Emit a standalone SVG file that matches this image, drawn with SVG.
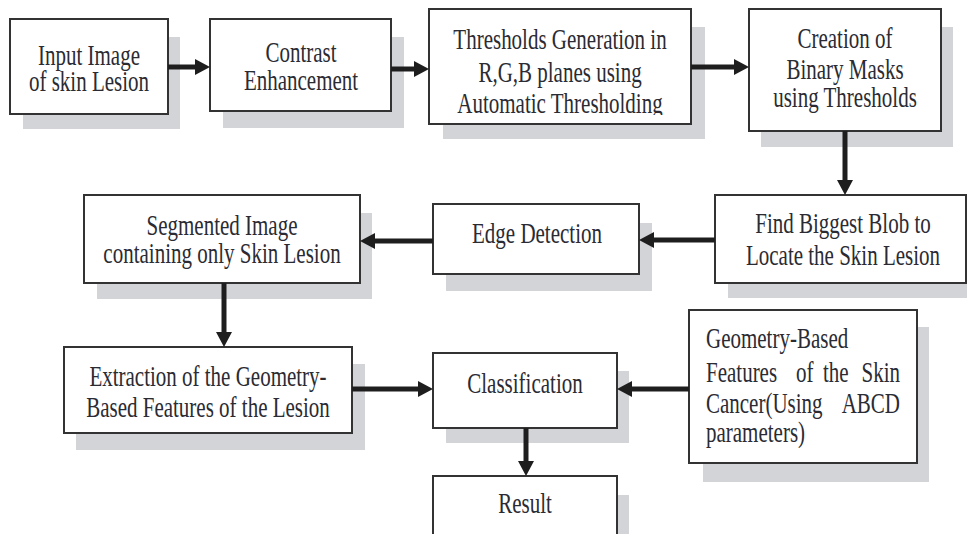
<svg xmlns="http://www.w3.org/2000/svg" width="967" height="534" viewBox="0 0 967 534">
<style>
.sh{fill:#d3d4d7}
.bx{fill:#fff;stroke:#333;stroke-width:2}
.t{font-family:"Liberation Serif","Times New Roman",serif;font-size:21px;fill:#2b2b33}
.m{text-anchor:middle}
.e{text-anchor:end}
.c{stroke:#1e1e1e;stroke-width:5;fill:none;marker-end:url(#ah)}
</style>
<defs>
<marker id="ah" markerUnits="userSpaceOnUse" viewBox="0 0 15 16" markerWidth="15" markerHeight="16" refX="1" refY="8" orient="auto">
<path d="M0,0 L15,8 L0,16 z" fill="#1e1e1e"/>
</marker>
<clipPath id="clipThr"><rect x="429" y="9" width="262" height="106"/></clipPath>
</defs>
<rect width="967" height="534" fill="#fff"/>

<g id="n1">
<rect class="sh" x="23" y="37" width="157" height="92"/>
<rect class="bx" x="10" y="19" width="158" height="95"/>
<text class="t m" transform="translate(89,65) scale(1,1.45)">Input Image</text>
<text class="t m" transform="translate(89,91) scale(1,1.45)">of skin Lesion</text>
</g>

<g id="n2">
<rect class="sh" x="223" y="37" width="181" height="91"/>
<rect class="bx" x="210" y="19" width="181" height="92"/>
<text class="t m" transform="translate(301,62) scale(1,1.45)">Contrast</text>
<text class="t m" transform="translate(301,90) scale(1,1.45)">Enhancement</text>
</g>

<g id="n3">
<rect class="sh" x="443" y="27" width="262" height="112"/>
<rect class="bx" x="429" y="9" width="262" height="115"/>
<g clip-path="url(#clipThr)">
<text class="t m" transform="translate(560,49) scale(1,1.45)">Thresholds Generation in</text>
<text class="t m" transform="translate(560,82) scale(1,1.45)">R,G,B planes using</text>
<text class="t m" transform="translate(560,113) scale(1,1.45)">Automatic Thresholding</text>
</g>
</g>

<g id="n4">
<rect class="sh" x="761" y="27" width="192" height="120"/>
<rect class="bx" x="749" y="9" width="192" height="122"/>
<text class="t m" transform="translate(845,48) scale(1,1.45)">Creation of</text>
<text class="t m" transform="translate(845,79) scale(1,1.45)">Binary Masks</text>
<text class="t m" transform="translate(845,107) scale(1,1.45)">using Thresholds</text>
</g>

<g id="n5">
<rect class="sh" x="728" y="213" width="250" height="85"/>
<rect class="bx" x="715" y="195" width="251" height="88"/>
<text class="t m" transform="translate(843,233) scale(1,1.45)">Find Biggest Blob to</text>
<text class="t m" transform="translate(843,265) scale(1,1.45)">Locate the Skin Lesion</text>
</g>

<g id="n6">
<rect class="sh" x="446" y="223" width="206" height="68"/>
<rect class="bx" x="433" y="204" width="206" height="70"/>
<text class="t m" transform="translate(537,243) scale(1,1.45)">Edge Detection</text>
</g>

<g id="n7">
<rect class="sh" x="97" y="213" width="275" height="86"/>
<rect class="bx" x="84" y="195" width="276" height="88"/>
<text class="t m" transform="translate(222,235) scale(1,1.45)">Segmented Image</text>
<text class="t m" transform="translate(222,263) scale(1,1.45)">containing only Skin Lesion</text>
</g>

<g id="n8">
<rect class="sh" x="76" y="364" width="289" height="86"/>
<rect class="bx" x="64" y="347" width="288" height="86"/>
<text class="t m" transform="translate(208,386) scale(1,1.45)">Extraction of the Geometry-</text>
<text class="t m" transform="translate(208,417) scale(1,1.45)">Based Features of the Lesion</text>
</g>

<g id="n9">
<rect class="sh" x="446" y="371" width="183" height="72"/>
<rect class="bx" x="433" y="353" width="184" height="75"/>
<text class="t m" transform="translate(525,393) scale(1,1.45)">Classification</text>
</g>

<g id="n10">
<rect class="sh" x="446" y="495" width="183" height="60"/>
<rect class="bx" x="433" y="476" width="184" height="70"/>
<text class="t m" transform="translate(525,513) scale(1,1.45)">Result</text>
</g>

<g id="n11">
<rect class="sh" x="703" y="327" width="226" height="155"/>
<rect class="bx" x="689" y="310" width="228" height="153"/>
<text class="t" transform="translate(706,348) scale(1,1.45)">Geometry-Based</text>
<text class="t" transform="translate(706,382) scale(1,1.45)">Features</text>
<text class="t" transform="translate(796,382) scale(1,1.45)">of</text>
<text class="t" transform="translate(823,382) scale(1,1.45)">the</text>
<text class="t e" transform="translate(900,382) scale(1,1.45)">Skin</text>
<text class="t" transform="translate(706,413) scale(1,1.45)">Cancer(Using</text>
<text class="t e" transform="translate(900,413) scale(1,1.45)">ABCD</text>
<text class="t" transform="translate(706,442) scale(1,1.45)">parameters)</text>
</g>

<g id="connectors">
<line class="c" x1="168" y1="67" x2="196" y2="67"/>
<line class="c" x1="391" y1="69" x2="415" y2="69"/>
<line class="c" x1="691" y1="67" x2="735" y2="67"/>
<line class="c" x1="845" y1="131" x2="845" y2="181"/>
<line class="c" x1="715" y1="240" x2="653" y2="240"/>
<line class="c" x1="433" y1="241" x2="374" y2="241"/>
<line class="c" x1="224" y1="283" x2="224" y2="333"/>
<line class="c" x1="352" y1="389" x2="419" y2="389"/>
<line class="c" x1="689" y1="389" x2="631" y2="389"/>
<line class="c" x1="526" y1="428" x2="526" y2="462"/>
</g>
</svg>
